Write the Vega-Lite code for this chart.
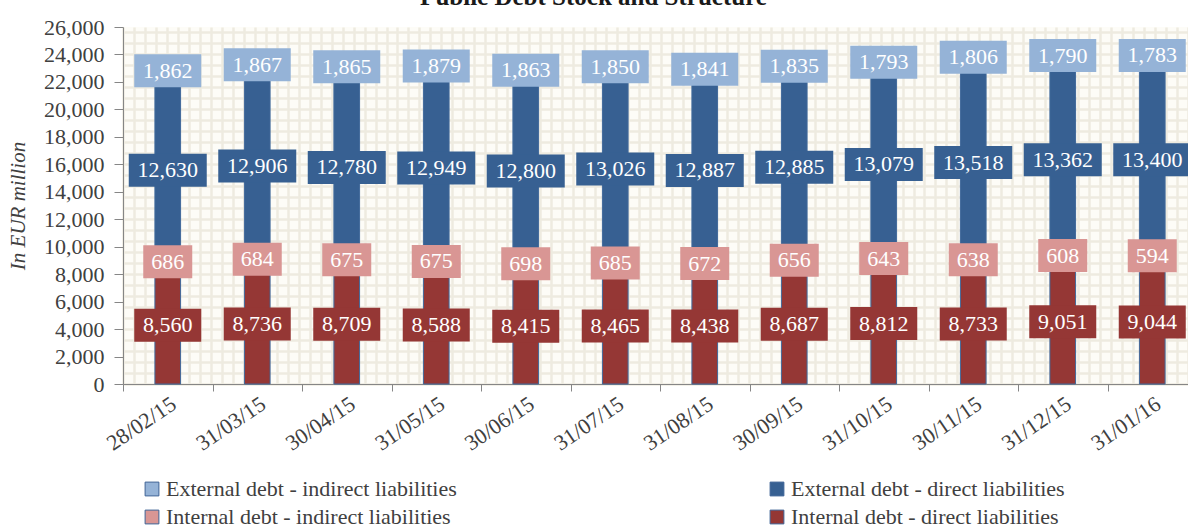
{
  "$schema": "https://vega.github.io/schema/vega-lite/v6.json",
  "width": 1065,
  "height": 357,
  "autosize": {"type": "none"},
  "padding": {"left": 123, "top": 27, "right": 0, "bottom": 142},
  "background": "white",
  "title": {"text": "Public Debt Stock and Structure", "font": "Liberation Serif", "fontSize": 25, "fontWeight": "bold", "color": "#1a1a1a", "anchor": "middle", "frame": "group", "dx": -62, "dy": 19, "offset": 0, "baseline": "bottom"},
  "config": {"view": {"fill": "#fdfcf7", "stroke": null}, "font": "Liberation Serif"},
  "data": {"values": [
    {"date": "28/02/15", "series": "Internal debt - direct liabilities", "value": 8560},
    {"date": "28/02/15", "series": "Internal debt - indirect liabilities", "value": 686},
    {"date": "28/02/15", "series": "External debt - direct liabilities", "value": 12630},
    {"date": "28/02/15", "series": "External debt - indirect liabilities", "value": 1862},
    {"date": "31/03/15", "series": "Internal debt - direct liabilities", "value": 8736},
    {"date": "31/03/15", "series": "Internal debt - indirect liabilities", "value": 684},
    {"date": "31/03/15", "series": "External debt - direct liabilities", "value": 12906},
    {"date": "31/03/15", "series": "External debt - indirect liabilities", "value": 1867},
    {"date": "30/04/15", "series": "Internal debt - direct liabilities", "value": 8709},
    {"date": "30/04/15", "series": "Internal debt - indirect liabilities", "value": 675},
    {"date": "30/04/15", "series": "External debt - direct liabilities", "value": 12780},
    {"date": "30/04/15", "series": "External debt - indirect liabilities", "value": 1865},
    {"date": "31/05/15", "series": "Internal debt - direct liabilities", "value": 8588},
    {"date": "31/05/15", "series": "Internal debt - indirect liabilities", "value": 675},
    {"date": "31/05/15", "series": "External debt - direct liabilities", "value": 12949},
    {"date": "31/05/15", "series": "External debt - indirect liabilities", "value": 1879},
    {"date": "30/06/15", "series": "Internal debt - direct liabilities", "value": 8415},
    {"date": "30/06/15", "series": "Internal debt - indirect liabilities", "value": 698},
    {"date": "30/06/15", "series": "External debt - direct liabilities", "value": 12800},
    {"date": "30/06/15", "series": "External debt - indirect liabilities", "value": 1863},
    {"date": "31/07/15", "series": "Internal debt - direct liabilities", "value": 8465},
    {"date": "31/07/15", "series": "Internal debt - indirect liabilities", "value": 685},
    {"date": "31/07/15", "series": "External debt - direct liabilities", "value": 13026},
    {"date": "31/07/15", "series": "External debt - indirect liabilities", "value": 1850},
    {"date": "31/08/15", "series": "Internal debt - direct liabilities", "value": 8438},
    {"date": "31/08/15", "series": "Internal debt - indirect liabilities", "value": 672},
    {"date": "31/08/15", "series": "External debt - direct liabilities", "value": 12887},
    {"date": "31/08/15", "series": "External debt - indirect liabilities", "value": 1841},
    {"date": "30/09/15", "series": "Internal debt - direct liabilities", "value": 8687},
    {"date": "30/09/15", "series": "Internal debt - indirect liabilities", "value": 656},
    {"date": "30/09/15", "series": "External debt - direct liabilities", "value": 12885},
    {"date": "30/09/15", "series": "External debt - indirect liabilities", "value": 1835},
    {"date": "31/10/15", "series": "Internal debt - direct liabilities", "value": 8812},
    {"date": "31/10/15", "series": "Internal debt - indirect liabilities", "value": 643},
    {"date": "31/10/15", "series": "External debt - direct liabilities", "value": 13079},
    {"date": "31/10/15", "series": "External debt - indirect liabilities", "value": 1793},
    {"date": "30/11/15", "series": "Internal debt - direct liabilities", "value": 8733},
    {"date": "30/11/15", "series": "Internal debt - indirect liabilities", "value": 638},
    {"date": "30/11/15", "series": "External debt - direct liabilities", "value": 13518},
    {"date": "30/11/15", "series": "External debt - indirect liabilities", "value": 1806},
    {"date": "31/12/15", "series": "Internal debt - direct liabilities", "value": 9051},
    {"date": "31/12/15", "series": "Internal debt - indirect liabilities", "value": 608},
    {"date": "31/12/15", "series": "External debt - direct liabilities", "value": 13362},
    {"date": "31/12/15", "series": "External debt - indirect liabilities", "value": 1790},
    {"date": "31/01/16", "series": "Internal debt - direct liabilities", "value": 9044},
    {"date": "31/01/16", "series": "Internal debt - indirect liabilities", "value": 594},
    {"date": "31/01/16", "series": "External debt - direct liabilities", "value": 13400},
    {"date": "31/01/16", "series": "External debt - indirect liabilities", "value": 1783}
  ]},
  "resolve": {"scale": {"x": "independent", "y": "independent"}},
  "layer": [
    {
      "mark": {"type": "point", "opacity": 0},
      "encoding": {
        "x": {"datum": 0, "type": "quantitative", "scale": {"domain": [0, 97], "nice": false, "zero": false}, "axis": {"orient": "top", "grid": true, "gridColor": "#eeebe0", "gridWidth": 2.5, "gridOpacity": 1, "tickCount": 97, "labels": false, "ticks": false, "domain": false, "title": null}},
        "y": {"datum": 0, "type": "quantitative", "scale": {"domain": [0, 32.5], "nice": false, "zero": false}, "axis": {"orient": "right", "grid": true, "gridColor": "#eeebe0", "gridWidth": 2.5, "gridOpacity": 1, "tickCount": 32, "labels": false, "ticks": false, "domain": false, "title": null}}
      }
    },
    {
      "transform": [
        {"calculate": "indexof(['Internal debt - direct liabilities','Internal debt - indirect liabilities','External debt - direct liabilities','External debt - indirect liabilities'], datum.series)", "as": "k"}
      ],
      "encoding": {
        "x": {"field": "date", "type": "nominal", "sort": null, "scale": {"range": [0, 1074], "paddingInner": 0, "paddingOuter": 0},
          "axis": {"orient": "bottom", "title": null, "labelAngle": -34, "labelFontSize": 22, "labelColor": "#404040", "labelFont": "Liberation Serif", "tickBand": "extent", "tickSize": 7, "tickColor": "#868686", "domainColor": "#868686", "labelPadding": 2, "grid": false, "labelOverlap": false}},
        "order": {"field": "k", "type": "quantitative"}
      },
      "layer": [
        {
          "mark": {"type": "bar", "width": {"band": 0.287}, "stroke": "#41699b", "strokeWidth": 1},
          "encoding": {
            "y": {"field": "value", "type": "quantitative", "stack": "zero", "scale": {"domain": [0, 26000], "nice": false},
              "axis": {"orient": "left", "title": "In EUR million", "titleFont": "Liberation Serif", "titleFontStyle": "italic", "titleFontWeight": "normal", "titleFontSize": 21, "titleColor": "#404040", "titlePadding": 15, "labelFontSize": 22, "labelColor": "#404040", "labelFont": "Liberation Serif", "values": [0, 2000, 4000, 6000, 8000, 10000, 12000, 14000, 16000, 18000, 20000, 22000, 24000, 26000], "format": ",.0f", "tickSize": 9, "tickColor": "#868686", "domainColor": "#868686", "labelPadding": 10, "grid": false, "labelOverlap": false}},
            "color": {"field": "series", "type": "nominal",
              "scale": {"domain": ["External debt - indirect liabilities", "External debt - direct liabilities", "Internal debt - indirect liabilities", "Internal debt - direct liabilities"], "range": ["#95b3d7", "#376092", "#d99694", "#953735"]},
              "legend": {"orient": "none", "legendX": 18, "legendY": 451, "columns": 2, "columnPadding": 309, "rowPadding": 6, "title": null, "labelFont": "Liberation Serif", "labelFontSize": 22, "labelColor": "#404040", "labelLimit": 500, "symbolType": "square", "symbolSize": 190, "symbolStrokeColor": "#3e6396", "symbolStrokeWidth": 1, "labelOffset": 3, "padding": 0, "direction": "horizontal"}}
          }
        },
        {
          "mark": {"type": "point", "filled": true, "size": 4, "opacity": 1, "strokeWidth": 0},
          "encoding": {
            "y": {"field": "value", "type": "quantitative", "stack": "zero", "bandPosition": 0.5,
              "axis": {"orient": "left", "title": "In EUR million", "titleFont": "Liberation Serif", "titleFontStyle": "italic", "titleFontWeight": "normal", "titleFontSize": 21, "titleColor": "#404040", "titlePadding": 15, "labelFontSize": 22, "labelColor": "#404040", "labelFont": "Liberation Serif", "values": [0, 2000, 4000, 6000, 8000, 10000, 12000, 14000, 16000, 18000, 20000, 22000, 24000, 26000], "format": ",.0f", "tickSize": 9, "tickColor": "#868686", "domainColor": "#868686", "labelPadding": 10, "grid": false, "labelOverlap": false}},
            "color": {"field": "series", "type": "nominal", "legend": null},
            "shape": {"condition": [
              {"test": "datum.value < 1000", "value": "M-24.5,-16.5H24.5V16.5H-24.5Z"},
              {"test": "datum.value < 10000", "value": "M-33.5,-16.5H33.5V16.5H-33.5Z"}
            ], "value": "M-39,-16.5H39V16.5H-39Z"}
          }
        },
        {
          "mark": {"type": "text", "fontSize": 22, "fill": "white", "font": "Liberation Serif", "align": "center", "baseline": "middle"},
          "encoding": {
            "y": {"field": "value", "type": "quantitative", "stack": "zero", "bandPosition": 0.5,
              "axis": {"orient": "left", "title": "In EUR million", "titleFont": "Liberation Serif", "titleFontStyle": "italic", "titleFontWeight": "normal", "titleFontSize": 21, "titleColor": "#404040", "titlePadding": 15, "labelFontSize": 22, "labelColor": "#404040", "labelFont": "Liberation Serif", "values": [0, 2000, 4000, 6000, 8000, 10000, 12000, 14000, 16000, 18000, 20000, 22000, 24000, 26000], "format": ",.0f", "tickSize": 9, "tickColor": "#868686", "domainColor": "#868686", "labelPadding": 10, "grid": false, "labelOverlap": false}},
            "detail": {"field": "series"},
            "text": {"field": "value", "type": "quantitative", "format": ","}
          }
        }
      ]
    }
  ]
}
